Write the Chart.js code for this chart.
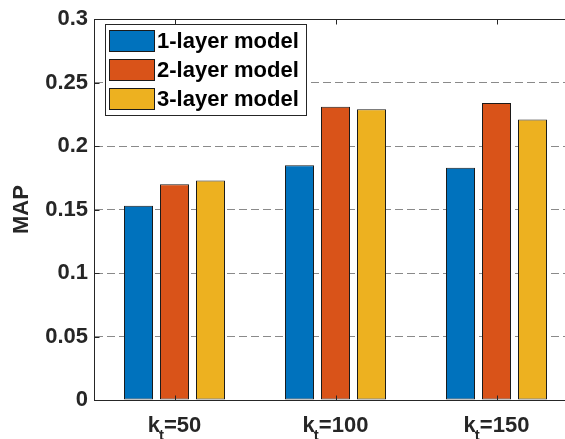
<!DOCTYPE html>
<html>
<head>
<meta charset="utf-8">
<script src="https://cdn.jsdelivr.net/npm/chart.js@4.4.1/dist/chart.umd.min.js"></script>
<style>
  html, body { margin: 0; padding: 0; background: #fff; overflow: hidden; }
  #wrap { position: absolute; left: 0; top: 0; width: 580px; height: 439px; }
</style>
</head>
<body>
<div id="wrap"><canvas id="c"></canvas></div>
<script>
// ---- data ----
const categories = ['k_t=50', 'k_t=100', 'k_t=150'];
const seriesNames = ['1-layer model', '2-layer model', '3-layer model'];
const oneLayer   = [0.153, 0.185, 0.183];
const twoLayer   = [0.170, 0.231, 0.234];
const threeLayer = [0.173, 0.229, 0.221];
const yTickValues = [0, 0.05, 0.1, 0.15, 0.2, 0.25, 0.3];
const yTickLabels = ['0', '0.05', '0.1', '0.15', '0.2', '0.25', '0.3'];
const yTitle = 'MAP';

const seriesColors = ['#0072BD', '#D95319', '#EDB120'];
const FONT = '"Liberation Sans", Arial, Helvetica, sans-serif';
const AXIS = '#262626';

const subLabelPlugin = {
  id: 'subLabels',
  afterDraw(chart) {
    const ctx = chart.ctx;
    const xs = chart.scales.x;
    ctx.save();
    ctx.fillStyle = AXIS;
    ctx.textBaseline = 'alphabetic';
    ctx.textAlign = 'left';
    chart.data.labels.forEach((lab, i) => {
      const m = lab.match(/^(.*)_(.)(.*)$/);
      const base = m ? m[1] : lab, sub = m ? m[2] : '', rest = m ? m[3] : '';
      ctx.font = 'bold 22px ' + FONT;
      const wb = ctx.measureText(base).width;
      const wr = ctx.measureText(rest).width;
      ctx.font = 'bold 15px ' + FONT;
      const ws = ctx.measureText(sub).width;
      const total = wb + ws + wr - 1;
      const cx = xs.getPixelForTick(i);
      let x = cx - total / 2;
      const by = 432;
      ctx.font = 'bold 22px ' + FONT;
      ctx.fillText(base, x, by);
      x += wb - 1;
      ctx.font = 'bold 15px ' + FONT;
      ctx.fillText(sub, x, by + 8);
      x += ws;
      ctx.font = 'bold 22px ' + FONT;
      ctx.fillText(rest, x, by);
    });
    ctx.restore();
  }
};

const framePlugin = {
  id: 'frame',
  afterDraw(chart) {
    const ctx = chart.ctx;
    const a = chart.chartArea;
    const xs = chart.scales.x, ys = chart.scales.y;
    ctx.save();
    ctx.setLineDash([]);
    ctx.strokeStyle = AXIS;
    ctx.lineWidth = 1;
    const top = Math.round(a.top) + 0.5;
    const bot = Math.round(a.bottom) + 0.5;
    const left = Math.round(a.left) + 0.5;
    ctx.beginPath();
    ctx.moveTo(left, top); ctx.lineTo(a.right, top);
    ctx.moveTo(left, top); ctx.lineTo(left, bot);
    ctx.moveTo(left, bot); ctx.lineTo(a.right, bot);
    for (let i = 0; i < chart.data.labels.length; i++) {
      const px = Math.round(xs.getPixelForTick(i)) + 0.5;
      ctx.moveTo(px, bot); ctx.lineTo(px, bot - 5);
      ctx.moveTo(px, top); ctx.lineTo(px, top + 5);
    }
    yTickValues.forEach(v => {
      const py = Math.round(ys.getPixelForValue(v)) + 0.5;
      ctx.moveTo(left, py); ctx.lineTo(left + 5, py);
    });
    ctx.stroke();
    ctx.restore();
  }
};

const legendPlugin = {
  id: 'boxLegend',
  afterDraw(chart) {
    const ctx = chart.ctx;
    ctx.save();
    ctx.lineWidth = 1;
    ctx.fillStyle = '#fff';
    ctx.fillRect(105.5, 24.5, 201, 91);
    ctx.strokeStyle = AXIS;
    ctx.strokeRect(105.5, 24.5, 201, 91);
    chart.data.datasets.forEach((ds, i) => {
      const cy = 41 + i * 29;
      ctx.fillStyle = ds.backgroundColor;
      ctx.fillRect(109.5, cy - 10.5, 45, 21);
      ctx.strokeStyle = '#1a1a1a';
      ctx.strokeRect(109.5, cy - 10.5, 45, 21);
      ctx.fillStyle = '#000';
      ctx.font = 'bold 22px ' + FONT;
      ctx.textBaseline = 'middle';
      ctx.textAlign = 'left';
      ctx.fillText(ds.label, 157, cy + 1);
    });
    ctx.restore();
  }
};

const seriesData = [oneLayer, twoLayer, threeLayer];

new Chart(document.getElementById('c'), {
  type: 'bar',
  data: {
    labels: categories,
    datasets: seriesNames.map((name, i) => ({
      label: name,
      data: seriesData[i],
      backgroundColor: seriesColors[i],
      borderColor: '#1a1a1a',
      borderWidth: 1,
      borderSkipped: false,
      categoryPercentage: 0.671,
      barPercentage: 0.806
    }))
  },
  options: {
    responsive: true,
    maintainAspectRatio: false,
    animation: false,
    devicePixelRatio: 1,
    layout: { padding: { left: 0, right: 3, top: 16, bottom: 0 } },
    plugins: { legend: { display: false }, tooltip: { enabled: false } },
    scales: {
      x: {
        type: 'category',
        offset: true,
        grid: { display: false, drawTicks: false },
        border: { display: true, color: AXIS, width: 1 },
        ticks: { display: false },
        afterFit(s) { s.height = 39; }
      },
      y: {
        min: 0, max: 0.3,
        afterBuildTicks(s) { s.ticks = yTickValues.map(v => ({ value: v })); },
        afterFit(s) { s.width = 94; },
        grid: {
          drawTicks: false,
          color: c => (c.tick && (c.tick.value === 0 || c.tick.value === 0.3)) ? 'rgba(0,0,0,0)' : '#8a8a8a',
          lineWidth: 1
        },
        border: { display: true, color: AXIS, width: 1, dash: [8, 4] },
        ticks: {
          padding: 6,
          color: AXIS,
          font: { family: FONT, size: 22, weight: 'bold' },
          callback: (v, i) => yTickLabels[i]
        },
        title: {
          display: true,
          text: yTitle,
          color: AXIS,
          font: { family: FONT, size: 22, weight: 'bold' },
          padding: { top: 9, bottom: 0 }
        }
      }
    }
  },
  plugins: [subLabelPlugin, framePlugin, legendPlugin]
});
</script>
</body>
</html>
